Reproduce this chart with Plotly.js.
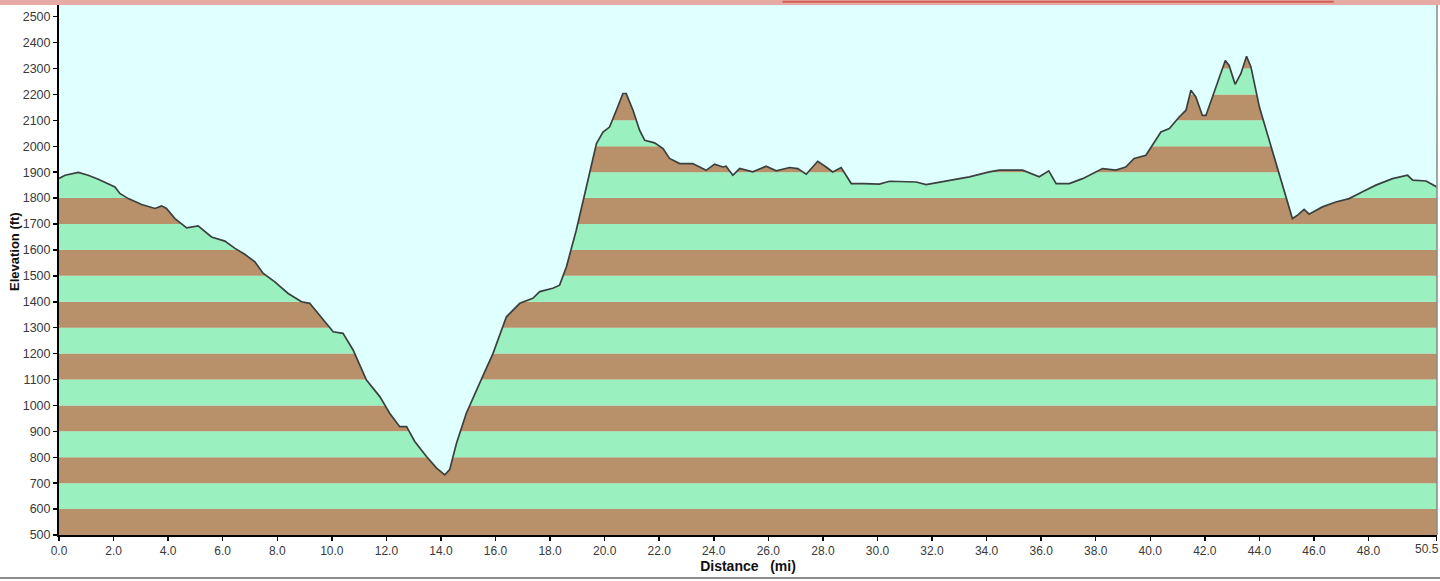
<!DOCTYPE html>
<html>
<head>
<meta charset="utf-8">
<script src="https://cdn.plot.ly/plotly-3.0.1.min.js"></script>
<style>
  html, body { margin: 0; padding: 0; background: #ffffff; }
  #chart { width: 1440px; height: 581px; }
</style>
</head>
<body>
<div id="chart"></div>
<script>
// ---- data ----
var distanceMi = [
  0.00, 0.22, 0.71, 1.07, 1.44, 1.81, 2.05, 2.23, 2.54, 3.03, 3.52, 3.76, 3.94, 4.25, 4.68, 5.10,
  5.29, 5.59, 6.08, 6.45, 6.81, 7.18, 7.48, 7.91, 8.40, 8.89, 9.19, 9.50, 9.86, 10.05, 10.41, 10.78,
  11.27, 11.76, 12.12, 12.49, 12.74, 13.04, 13.47, 13.84, 14.14, 14.32, 14.57, 14.93, 15.42, 15.91,
  16.40, 16.89, 17.37, 17.62, 18.10, 18.35, 18.60, 18.96, 19.33, 19.57, 19.70, 19.94, 20.18, 20.43,
  20.67, 20.79, 21.04, 21.28, 21.47, 21.83, 22.14, 22.38, 22.75, 23.23, 23.72, 24.03, 24.33, 24.45,
  24.70, 24.95, 25.43, 25.92, 26.29, 26.78, 27.08, 27.39, 27.81, 28.12, 28.36, 28.67, 29.04, 29.50,
  30.07, 30.44, 31.42, 31.78, 32.64, 33.37, 34.10, 34.47, 35.32, 35.93, 36.28, 36.55, 37.03, 37.52,
  38.25, 38.74, 39.10, 39.41, 39.84, 40.20, 40.39, 40.70, 41.06, 41.31, 41.49, 41.67, 41.91, 42.04,
  42.28, 42.47, 42.75, 42.89, 43.11, 43.32, 43.53, 43.69, 44.00, 44.36, 44.73, 44.97, 45.21, 45.40,
  45.64, 45.82, 46.31, 46.80, 47.29, 47.78, 48.27, 48.88, 49.43, 49.62, 50.11, 50.50
];
var elevationFt = [
  1876, 1888, 1899, 1888, 1873, 1856, 1843, 1818, 1798, 1775, 1760, 1770, 1760, 1721, 1685, 1693,
  1676, 1650, 1634, 1606, 1583, 1554, 1510, 1477, 1432, 1400, 1394, 1355, 1310, 1284, 1278, 1214,
  1098, 1034, 970, 918, 918, 861, 803, 758, 732, 752, 854, 970, 1086, 1201,
  1342, 1394, 1413, 1439, 1452, 1464, 1535, 1676, 1843, 1946, 2010, 2055, 2074, 2139,
  2203, 2203, 2139, 2062, 2023, 2013, 1991, 1953, 1933, 1933, 1907, 1931, 1920, 1923,
  1888, 1914, 1901, 1923, 1905, 1918, 1914, 1892, 1942, 1920, 1901, 1918, 1856, 1856,
  1854, 1865, 1862, 1852, 1869, 1882, 1901, 1908, 1908, 1882, 1905, 1856, 1856, 1875,
  1914, 1908, 1920, 1953, 1965, 2023, 2055, 2068, 2113, 2139, 2216, 2190, 2119, 2119,
  2190, 2254, 2331, 2312, 2239, 2280, 2347, 2306, 2151, 2023, 1895, 1805, 1721, 1734,
  1756, 1738, 1766, 1785, 1798, 1824, 1850, 1875, 1888, 1869, 1866, 1843
];
var yTickVals = [500,600,700,800,900,1000,1100,1200,1300,1400,1500,1600,1700,1800,1900,2000,2100,2200,2300,2400,2500];
var xTickVals = [0,2,4,6,8,10,12,14,16,18,20,22,24,26,28,30,32,34,36,38,40,42,44,46,48,50.5];
var xTickText = xTickVals.map(function(v){ return v.toFixed(1); });
var bandSize = 100;            // ft per colour band
var yMin = 500, yMax = 2545;
var xMin = 0, xMax = 50.51;

// ---- colours ----
var brown = '#B8916A';
var green = '#9AF0BE';
var sky = '#E0FFFF';

// colour bands (behind the profile)
var shapes = [];
for (var b = yMin, i = 0; b < 2600; b += bandSize, i++) {
  shapes.push({
    type: 'rect', layer: 'below', xref: 'paper', yref: 'y',
    x0: 0, x1: 1, y0: b, y1: b + bandSize,
    fillcolor: (i % 2 === 0) ? brown : green, line: {width: 0}
  });
}
// right frame line
shapes.push({type:'line', xref:'paper', yref:'paper', x0:1, x1:1, y0:0, y1:1,
  line:{color:'#8a8a8a', width:1.5}, layer:'above'});
// pink strip at top of image (slide edge)
shapes.push({type:'rect', xref:'paper', yref:'paper', x0:-0.05, x1:1.01, y0:1.0, y1:1.02,
  fillcolor:'#E7ABA6', line:{width:0}, layer:'above'});
shapes.push({type:'line', xref:'paper', yref:'paper', x0:0.525, x1:0.925, y0:1.006, y1:1.006,
  line:{color:'#D0604F', width:2}, layer:'above'});
// bottom gray line of image
shapes.push({type:'line', xref:'paper', yref:'paper', x0:-0.05, x1:1.01, y0:-0.081, y1:-0.081,
  line:{color:'#8c8c8c', width:2}, layer:'above'});

var topX = [xMin, xMax];
var topY = [3000, 3000];

var traces = [
  { x: distanceMi, y: elevationFt, type: 'scatter', mode: 'lines',
    line: {color: 'rgba(0,0,0,0)', width: 0}, hoverinfo: 'skip', showlegend: false },
  { x: topX, y: topY, type: 'scatter', mode: 'lines', fill: 'tonexty',
    fillcolor: sky, line: {color: 'rgba(0,0,0,0)', width: 0}, hoverinfo: 'skip', showlegend: false },
  { x: distanceMi, y: elevationFt, type: 'scatter', mode: 'lines',
    line: {color: '#3a4040', width: 1.7}, showlegend: false }
];

var fontFam = 'Liberation Sans, Arial, sans-serif';
var tickFont = {family: fontFam, size: 12, color: '#3a3a3a'};

// last tick label (50.5) is drawn right-aligned at its tick so it stays inside the page
var lastIdx = xTickVals.length - 1;
var shownTickText = xTickText.map(function(t, k){ return k === lastIdx ? '' : t; });

var layout = {
  width: 1440, height: 581,
  margin: {l: 59, r: 3, t: 5, b: 46},
  paper_bgcolor: '#ffffff',
  plot_bgcolor: sky,
  showlegend: false,
  shapes: shapes,
  annotations: [{
    text: '<b>Elevation (ft)</b>', textangle: -90, showarrow: false,
    xref: 'paper', yref: 'paper', x: -0.0319, y: 0.534, xanchor: 'center', yanchor: 'middle',
    font: {family: fontFam, size: 13, color: '#111111'}
  }, {
    text: xTickText[lastIdx], showarrow: false,
    xref: 'x', yref: 'paper', x: xTickVals[lastIdx], y: 0, xanchor: 'right', yanchor: 'top',
    xshift: 4, yshift: -5, font: tickFont
  }],
  xaxis: {
    range: [xMin, xMax], tickvals: xTickVals, ticktext: shownTickText,
    showgrid: false, zeroline: false,
    showline: true, linecolor: '#000000', linewidth: 2,
    ticks: 'outside', ticklen: 4, tickcolor: '#000000', tickwidth: 1.5,
    tickfont: tickFont,
    title: {text: '<b>Distance   (mi)</b>', standoff: 3,
      font: {family: fontFam, size: 14, color: '#111111'}}
  },
  yaxis: {
    range: [yMin, yMax], tickvals: yTickVals,
    showgrid: false, zeroline: false,
    showline: true, linecolor: '#000000', linewidth: 2,
    ticks: 'outside', ticklen: 4, tickcolor: '#000000', tickwidth: 1.5,
    tickfont: {family: fontFam, size: 12.5, color: '#3a3a3a'}
  }
};

Plotly.newPlot('chart', traces, layout, {staticPlot: true, displayModeBar: false});
</script>
</body>
</html>
